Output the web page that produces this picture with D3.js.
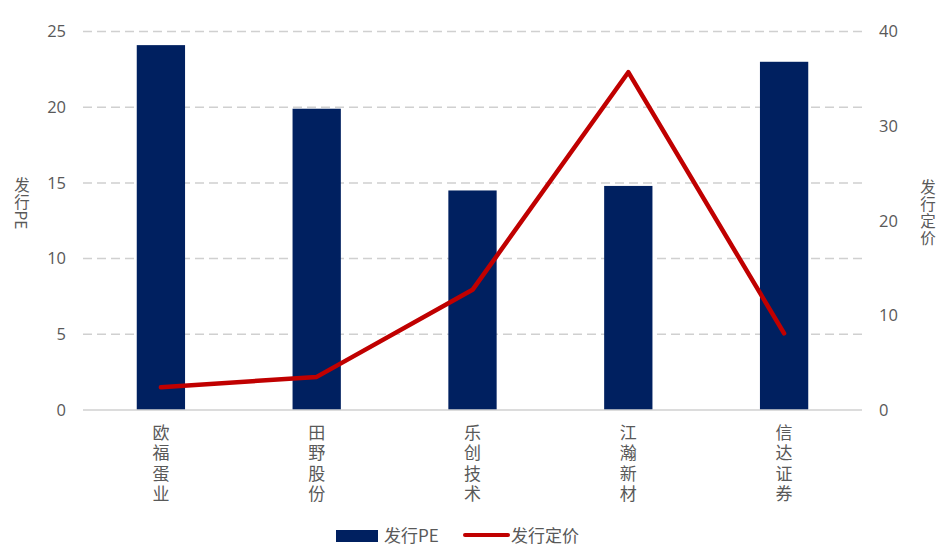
<!DOCTYPE html>
<html><head><meta charset="utf-8">
<script src="https://cdn.jsdelivr.net/npm/d3@7"></script>
<style>body{margin:0;background:#fff}svg{display:block}text{font-family:"Noto Sans CJK SC","Open Sans",sans-serif;fill:#595959}</style>
</head><body>
<script>
const categories = ["欧福蛋业","田野股份","乐创技术","江瀚新材","信达证券"];
const peValues = [24.1, 19.9, 14.5, 14.8, 23.0];
const priceValues = [2.4, 3.5, 12.7, 35.7, 8.1];
const leftTicks = [0,5,10,15,20,25];
const rightTicks = [0,10,20,30,40];
const seriesNames = ["发行PE","发行定价"];
const leftTitleCJK = "发行", leftTitleLatin = "PE", rightTitle = "发行定价";

const W=945,H=555, x0=83, x1=862, yTop=31.5, yBot=410;
const svg=d3.select("body").append("svg").attr("width",W).attr("height",H);
const x=d3.scaleBand().domain(categories).range([x0,x1]).paddingInner(0.69).paddingOuter(0.345);
const yL=d3.scaleLinear().domain([0,25]).range([yBot,yTop]);
const yR=d3.scaleLinear().domain([0,40]).range([yBot,yTop]);

svg.append("g").selectAll("line").data(leftTicks.filter(d=>d>0)).join("line")
 .attr("x1",x0).attr("x2",x1).attr("y1",d=>yL(d)).attr("y2",d=>yL(d))
 .attr("stroke","#d0d0d0").attr("stroke-width",1.5).attr("stroke-dasharray","9,5");

const gl=svg.append("g").attr("transform",`translate(${x0-17},0)`)
 .call(d3.axisLeft(yL).tickValues(leftTicks).tickSize(0).tickPadding(0));
gl.select(".domain").remove();
gl.selectAll("text").style("font-family","'Open Sans',sans-serif").attr("font-size",16.5).attr("fill","#595959");

const gr=svg.append("g").attr("transform",`translate(${x1+17},0)`)
 .call(d3.axisRight(yR).tickValues(rightTicks).tickSize(0).tickPadding(0));
gr.select(".domain").remove();
gr.selectAll("text").style("font-family","'Open Sans',sans-serif").attr("font-size",16.5).attr("fill","#595959");

svg.append("g").selectAll("rect").data(categories).join("rect")
 .attr("x",d=>x(d)).attr("width",x.bandwidth())
 .attr("y",(d,i)=>yL(peValues[i])).attr("height",(d,i)=>yBot-yL(peValues[i]))
 .attr("fill","#002060");

svg.append("line").attr("x1",x0).attr("x2",x1).attr("y1",yBot).attr("y2",yBot).attr("stroke","#d0d0d0").attr("stroke-width",1.5);

const line=d3.line().x((d,i)=>x(categories[i])+x.bandwidth()/2).y(d=>yR(d));
svg.append("path").datum(priceValues).attr("d",line).attr("fill","none")
 .attr("stroke","#c00000").attr("stroke-width",4.5).attr("stroke-linejoin","round").attr("stroke-linecap","round");

function vtext(g, str, cx, y0, size, ls){
  return g.append("text").attr("x",cx).attr("y",y0)
   .style("writing-mode","vertical-rl").style("text-orientation","upright")
   .attr("font-size",size).attr("letter-spacing",ls).text(str);
}
const cg=svg.append("g");
categories.forEach(c=>vtext(cg, c, x(c)+x.bandwidth()/2, 424, 17, 3.5));

const lt=svg.append("g");
vtext(lt, leftTitleCJK, 22, 177, 15.5, 1.5);
lt.append("text").attr("transform","translate(22,220) rotate(90)").attr("text-anchor","middle")
 .attr("dominant-baseline","central").attr("font-size",15.5).text(leftTitleLatin);

vtext(svg.append("g"), rightTitle, 928, 179, 15.5, 1.5);

const lg=svg.append("g");
lg.append("rect").attr("x",336).attr("y",530).attr("width",42).attr("height",12).attr("fill","#002060");
lg.append("text").attr("x",384).attr("y",542).attr("font-size",17).text(seriesNames[0]);
lg.append("line").attr("x1",465).attr("x2",508).attr("y1",535).attr("y2",535).attr("stroke","#c00000").attr("stroke-width",4).attr("stroke-linecap","round");
lg.append("text").attr("x",511).attr("y",542).attr("font-size",17).text(seriesNames[1]);
</script>
</body></html>
